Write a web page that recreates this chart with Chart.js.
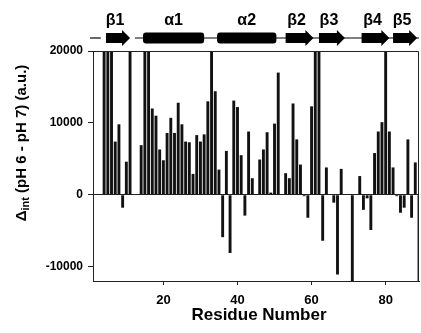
<!DOCTYPE html>
<html>
<head>
<meta charset="utf-8">
<script src="https://cdn.jsdelivr.net/npm/chart.js@4.4.1/dist/chart.umd.min.js"></script>
<style>
  html, body { margin: 0; padding: 0; background: #fff; }
  canvas { display: block; }
</style>
</head>
<body>
<canvas id="pHChart" width="421" height="333"></canvas>
<script>
/*
    Difference in intensity (pH 6 - pH 7) per residue.
    Bars that run off the plot are stored at the axis limit.
*/
const firstResidue = 1;
const lastResidue = 89;
const residues = Array.from({ length: lastResidue - firstResidue + 1 }, (_, i) => firstResidue + i);
const deltaInt = [
    0, 0, 0, 20000, 20000, 20000, 7400, 9800, -1800, 4600,
    20000, 0, 0, 6900, 20000, 20000, 12000, 11000, 6300, 4800,
    8600, 10700, 8600, 12800, 9800, 7400, 7300, 2900, 8300, 7400,
    8400, 13000, 20000, 14400, 3500, -5900, 6100, -8100, 13100, 12200,
    5500, -2900, 8800, 2300, 0, 4900, 6300, 8700, 300, 9900,
    17000, 0, 3000, 2300, 12700, 7700, 4200, -200, -3200, 12300,
    20000, 20000, -6400, 3800, 0, -1100, -11100, 3600, 0, 0,
    -12000, 0, 2600, -2100, -500, -4900, 5800, 8800, 10100, 20000,
    8800, 3800, -200, -2500, -1800, 7700, -3200, 4500, -12000
];
const xTickValues = [20, 40, 60, 80];
const yTickValues = [-10000, 0, 10000, 20000];

// secondary structure elements drawn above the plot (residue spans)
const ssLabels = ['β1', 'α1', 'α2', 'β2', 'β3', 'β4', 'β5'];
const ssStart = [4.5, 14.5, 34.5, 53, 62, 73.5, 82];
const ssEnd = [11, 31, 50.5, 60.5, 69, 81, 88.5];
const ssLinkStart = [0.2, 12.3];
const ssLinkEnd = [3.1, 89];

const boldFont = 'Liberation Sans, Arial, sans-serif';

/*
    Draws the plot frame, the secondary structure row and both axis titles.
*/
const decorPlugin = {
    id: 'decor',
    afterDatasetsDraw(chart) {
        const { ctx, chartArea } = chart;
        ctx.save();
        ctx.strokeStyle = '#222';
        ctx.lineWidth = 1;
        ctx.beginPath();
        ctx.moveTo(chartArea.left, chartArea.top + 0.5);
        ctx.lineTo(chartArea.right - 0.5, chartArea.top + 0.5);
        ctx.lineTo(chartArea.right - 0.5, chartArea.bottom);
        ctx.stroke();
        ctx.restore();
    },
    afterDraw(chart) {
        const { ctx, chartArea, scales } = chart;
        const xs = scales.x;
        const rowY = 38;
        ctx.save();

        // thin connecting line
        ctx.strokeStyle = '#000';
        ctx.lineWidth = 1.2;
        for (let i = 0; i < ssLinkStart.length; i++) {
            ctx.beginPath();
            ctx.moveTo(xs.getPixelForValue(ssLinkStart[i]), rowY);
            ctx.lineTo(xs.getPixelForValue(ssLinkEnd[i]), rowY);
            ctx.stroke();
        }

        ctx.fillStyle = '#000';
        for (let i = 0; i < ssLabels.length; i++) {
            const x0 = xs.getPixelForValue(ssStart[i]);
            const x1 = xs.getPixelForValue(ssEnd[i]);
            const isStrand = ssLabels[i].startsWith('β');
            if (isStrand) {
                const headLen = 8;
                ctx.beginPath();
                ctx.moveTo(x0, rowY - 5);
                ctx.lineTo(x1 - headLen, rowY - 5);
                ctx.lineTo(x1 - headLen, rowY - 8);
                ctx.lineTo(x1, rowY);
                ctx.lineTo(x1 - headLen, rowY + 8);
                ctx.lineTo(x1 - headLen, rowY + 5);
                ctx.lineTo(x0, rowY + 5);
                ctx.closePath();
                ctx.fill();
            } else {
                ctx.beginPath();
                ctx.roundRect(x0, rowY - 5.5, x1 - x0, 11, 3);
                ctx.fill();
            }
            const labelX = (x0 + x1) / 2 - (isStrand ? 3 : 0);
            ctx.font = 'bold 16px ' + boldFont;
            ctx.textAlign = 'center';
            ctx.textBaseline = 'middle';
            ctx.fillText(ssLabels[i], labelX, 21);
        }

        // x axis title
        ctx.font = 'bold 17px ' + boldFont;
        ctx.textAlign = 'center';
        ctx.textBaseline = 'middle';
        ctx.fillText('Residue Number', (chartArea.left + chartArea.right) / 2 + 3, 315);

        // y axis title with subscript
        const mainFont = 'bold 15px ' + boldFont;
        const subFont = 'bold 11px ' + boldFont;
        const part1 = 'Δ';
        const sub = 'int';
        const part2 = ' (pH 6 - pH 7) (a.u.)';
        ctx.font = mainFont;
        const w1 = ctx.measureText(part1).width;
        const w3 = ctx.measureText(part2).width;
        ctx.font = subFont;
        const w2 = ctx.measureText(sub).width;
        const total = w1 + w2 + w3;
        ctx.translate(22, 143);
        ctx.rotate(-Math.PI / 2);
        ctx.textAlign = 'left';
        ctx.textBaseline = 'middle';
        let pos = -total / 2;
        ctx.font = mainFont;
        ctx.fillText(part1, pos, 0);
        pos += w1;
        ctx.font = subFont;
        ctx.fillText(sub, pos, 4);
        pos += w2;
        ctx.font = mainFont;
        ctx.fillText(part2, pos, 0);
        ctx.restore();
    }
};

function displayChart() {
    const canvas = document.getElementById('pHChart');
    const ctx = canvas.getContext('2d');
    const points = residues.map((r, i) => ({ x: r, y: deltaInt[i] }));
    new Chart(ctx, {
        type: 'bar',
        data: {
            datasets: [{
                data: points,
                backgroundColor: '#111',
                borderWidth: 0,
                barPercentage: 0.78,
                categoryPercentage: 1
            }]
        },
        options: {
            responsive: false,
            animation: false,
            devicePixelRatio: 1,
            layout: { padding: { top: 51, right: 2, left: 0, bottom: 0 } },
            plugins: {
                legend: { display: false },
                tooltip: { enabled: false }
            },
            scales: {
                x: {
                    type: 'linear',
                    min: firstResidue,
                    max: lastResidue,
                    offset: false,
                    grid: { offset: false, drawOnChartArea: false, drawTicks: true, tickLength: 4, color: '#222' },
                    border: { color: '#222', width: 1 },
                    ticks: {
                        color: '#000',
                        padding: 8,
                        maxRotation: 0,
                        font: { family: boldFont, size: 13, weight: 'bold' }
                    },
                    afterBuildTicks: (scale) => { scale.ticks = xTickValues.map(v => ({ value: v })); },
                    afterFit: (scale) => { scale.height = 52; }
                },
                y: {
                    min: -12000,
                    max: 20000,
                    grid: {
                        drawTicks: true,
                        tickLength: 5,
                        color: (c) => (c.tick && c.tick.value === 0 ? '#222' : 'rgba(0,0,0,0)'),
                        tickColor: '#222'
                    },
                    border: { color: '#222', width: 1 },
                    ticks: {
                        color: '#000',
                        padding: 5,
                        font: { family: boldFont, size: 12, weight: 'bold' },
                        callback: (v) => String(v)
                    },
                    afterBuildTicks: (scale) => { scale.ticks = yTickValues.map(v => ({ value: v })); },
                    afterFit: (scale) => { scale.width = 93; }
                }
            }
        },
        plugins: [decorPlugin]
    });
}

displayChart();
</script>
</body>
</html>
